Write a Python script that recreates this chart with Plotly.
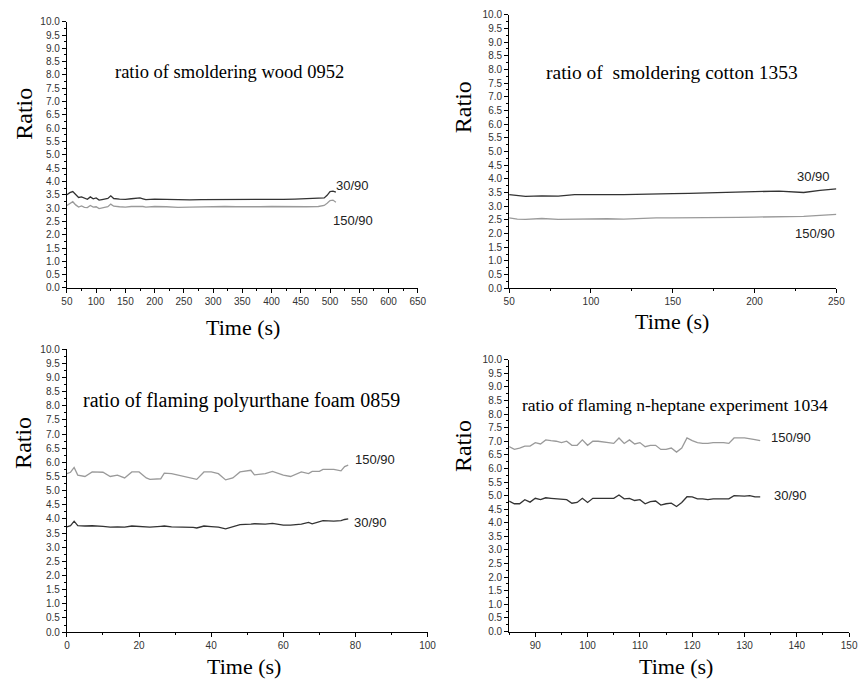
import plotly.graph_objects as go

# ---------------- data ----------------
# Panel 1: smoldering wood 0952
wood_t = [50, 55, 60, 65, 70, 75, 80, 85, 90, 95, 100, 105, 110, 115, 120, 125, 130, 140, 150,
          160, 170, 175, 180, 185, 200, 220, 240, 260, 280, 300, 320, 340, 360, 380, 400,
          420, 440, 460, 480, 490, 495, 500, 505, 510]
wood_30 = [3.50, 3.58, 3.62, 3.50, 3.40, 3.42, 3.36, 3.33, 3.42, 3.35, 3.38, 3.30, 3.32, 3.35, 3.36,
           3.46, 3.36, 3.34, 3.33, 3.35, 3.36, 3.38, 3.35, 3.32, 3.34, 3.33, 3.30, 3.31, 3.32, 3.32,
           3.31, 3.32, 3.31, 3.32, 3.33, 3.33, 3.34, 3.35, 3.36, 3.38, 3.48, 3.62, 3.64, 3.60]
wood_150 = [3.10, 3.18, 3.24, 3.12, 3.04, 3.08, 3.03, 3.02, 3.10, 3.04, 3.05, 2.98, 3.00, 3.04, 3.05,
            3.15, 3.07, 3.05, 3.04, 3.06, 3.07, 3.08, 3.06, 3.04, 3.06, 3.05, 3.03, 3.04, 3.05, 3.05,
            3.06, 3.05, 3.04, 3.05, 3.06, 3.05, 3.04, 3.05, 3.06, 3.10, 3.18, 3.28, 3.30, 3.22]

# Panel 2: smoldering cotton 1353
cotton_t = [50, 55, 60, 70, 80, 90, 100, 110, 120, 130, 140, 150, 160, 175, 190, 200, 215, 225, 230, 240, 250]
cotton_30 = [3.42, 3.38, 3.36, 3.38, 3.37, 3.42, 3.41, 3.42, 3.42, 3.44, 3.46, 3.46, 3.47, 3.50, 3.51,
             3.53, 3.55, 3.52, 3.50, 3.58, 3.63]
cotton_150 = [2.57, 2.53, 2.52, 2.55, 2.52, 2.53, 2.55, 2.54, 2.53, 2.56, 2.57, 2.57, 2.57, 2.57, 2.59,
              2.60, 2.61, 2.60, 2.63, 2.66, 2.70]

# Panel 3: flaming polyurethane foam 0859
foam_t = [0, 1, 2, 3, 5, 7, 10, 12, 14, 16, 18, 20, 22, 23, 26, 27, 29, 33, 35, 36, 38, 40, 42, 44,
          46, 48, 51, 52, 55, 57, 60, 62, 65, 67, 68, 70, 71, 74, 76, 77, 78]
foam_150 = [5.60, 5.65, 5.82, 5.55, 5.50, 5.66, 5.65, 5.50, 5.55, 5.45, 5.66, 5.66, 5.45, 5.40, 5.42,
            5.62, 5.60, 5.50, 5.45, 5.40, 5.66, 5.66, 5.60, 5.38, 5.45, 5.66, 5.72, 5.56, 5.60, 5.68,
            5.55, 5.50, 5.66, 5.60, 5.68, 5.68, 5.75, 5.75, 5.70, 5.85, 5.90]
foam_30 = [3.72, 3.76, 3.92, 3.76, 3.75, 3.76, 3.74, 3.71, 3.72, 3.71, 3.75, 3.74, 3.71, 3.71, 3.74,
           3.75, 3.72, 3.72, 3.70, 3.68, 3.75, 3.73, 3.71, 3.65, 3.72, 3.80, 3.82, 3.83, 3.82, 3.84,
           3.78, 3.78, 3.82, 3.88, 3.83, 3.90, 3.94, 3.92, 3.94, 3.98, 4.00]

# Panel 4: flaming n-heptane experiment 1034
hep_t = [85, 86, 87, 88, 89, 90, 91, 92, 93, 94, 95, 96, 97, 98, 99, 100, 101, 102, 104, 105, 106,
         107, 108, 109, 110, 111, 112, 113, 114, 115, 116, 117, 118, 119, 120, 121, 122, 123, 124,
         126, 127, 128, 130, 131, 132, 133]
hep_150 = [6.80, 6.70, 6.75, 6.82, 6.82, 6.95, 6.90, 7.05, 7.02, 7.00, 6.95, 7.00, 6.85, 6.85, 7.05,
           6.85, 7.00, 7.00, 6.95, 6.92, 7.12, 6.92, 7.05, 6.90, 6.95, 6.80, 6.85, 6.85, 6.70, 6.70,
           6.75, 6.60, 6.75, 7.12, 7.02, 6.95, 6.92, 6.92, 6.95, 6.95, 6.92, 7.12, 7.12, 7.10, 7.06, 7.02]
hep_30 = [4.80, 4.70, 4.70, 4.85, 4.76, 4.90, 4.85, 4.92, 4.90, 4.88, 4.85, 4.85, 4.72, 4.75, 4.90,
          4.75, 4.90, 4.90, 4.88, 4.90, 5.02, 4.88, 4.90, 4.82, 4.85, 4.70, 4.78, 4.80, 4.65, 4.70,
          4.72, 4.60, 4.75, 4.96, 4.95, 4.88, 4.88, 4.85, 4.88, 4.88, 4.88, 5.00, 4.98, 5.00, 4.95, 4.95]

panel_titles = ["ratio of smoldering wood 0952", "ratio of  smoldering cotton 1353",
                "ratio of flaming polyurthane foam 0859", "ratio of flaming n-heptane experiment 1034"]
series_names = ["30/90", "150/90"]
x_title = "Time (s)"
y_title = "Ratio"

# ---------------- styling / layout ----------------
W, H = 866, 684
DARK = "#333333"
LIGHT = "#9a9a9a"
SERIF = "Liberation Serif, Times New Roman, serif"
SANS = "Liberation Sans, Arial, sans-serif"

def fx(px):
    return px / W

def fy(py):
    return 1 - py / H

# pixel boxes: (left, right, top, bottom)
boxes = [(62, 419, 16, 287), (512, 845, 8.8, 287.3), (62, 429, 349.3, 637.3), (512, 858, 360, 636.7)]
xranges = [[50, 650], [50, 250], [0, 100], [85, 150]]
xticks = [(50, 50, 25), (50, 50, 25), (0, 20, 10), (90, 10, 5)]

panels = [
    (wood_t, wood_30, wood_150),
    (cotton_t, cotton_30, cotton_150),
    (foam_t, foam_30, foam_150),
    (hep_t, hep_30, hep_150),
]

fig = go.Figure()
for i, (t, s30, s150) in enumerate(panels):
    sfx = "" if i == 0 else str(i + 1)
    fig.add_trace(go.Scatter(x=t, y=s30, mode="lines", line=dict(color=DARK, width=1.3),
                             name=series_names[0], showlegend=False, xaxis="x" + sfx, yaxis="y" + sfx))
    fig.add_trace(go.Scatter(x=t, y=s150, mode="lines", line=dict(color=LIGHT, width=1.3),
                             name=series_names[1], showlegend=False, xaxis="x" + sfx, yaxis="y" + sfx))

layout = dict(width=W, height=H, margin=dict(l=0, r=0, t=0, b=0),
              paper_bgcolor="white", plot_bgcolor="white", showlegend=False)

for i in range(4):
    l, r, t, b = boxes[i]
    sfx = "" if i == 0 else str(i + 1)
    t0, dt, mdt = xticks[i]
    layout["xaxis" + sfx] = dict(
        domain=[fx(l), fx(r)], range=xranges[i], anchor="y" + sfx,
        showline=True, linecolor="black", linewidth=1.2, showgrid=False, zeroline=False,
        ticks="outside", ticklen=4, tickcolor="black", tick0=t0, dtick=dt,
        minor=dict(ticks="outside", ticklen=2, dtick=mdt, tick0=t0, tickcolor="black", showgrid=False),
        tickfont=dict(family=SANS, size=10, color="#333333"))
    layout["yaxis" + sfx] = dict(
        domain=[fy(b), fy(t)], range=[0, 10], anchor="x" + sfx,
        showline=True, linecolor="black", linewidth=1.2, showgrid=False, zeroline=False,
        ticks="outside", ticklen=4, tickcolor="black", tick0=0, dtick=0.5, tickformat=".1f",
        minor=dict(ticks="outside", ticklen=2, dtick=0.25, tickcolor="black", showgrid=False),
        tickfont=dict(family=SANS, size=10, color="#333333"))

fig.update_layout(**layout)

ann = []
# panel titles (center px, center py, size)
title_pos = [(227, 67, 18.5), (678, 68, 19.5), (240, 402, 20), (681, 406, 17.5)]
for i, (cx, cy, sz) in enumerate(title_pos):
    ann.append(dict(text=panel_titles[i], x=fx(cx), y=fy(cy), xref="paper", yref="paper",
                    showarrow=False, xanchor="center", yanchor="middle",
                    font=dict(family=SERIF, size=sz, color="black")))

# axis titles
ratio_pos = [(18, 110), (465, 103), (18, 445), (465, 448)]
time_pos = [(241, 327), (678, 321), (242, 672), (682, 672)]
for (rx, ry), (tx, ty) in zip(ratio_pos, time_pos):
    ann.append(dict(text=y_title, x=fx(rx), y=fy(ry), xref="paper", yref="paper", textangle=-90,
                    showarrow=False, xanchor="center", yanchor="middle",
                    font=dict(family=SERIF, size=24, color="black")))
    ann.append(dict(text=x_title, x=fx(tx), y=fy(ty), xref="paper", yref="paper",
                    showarrow=False, xanchor="center", yanchor="middle",
                    font=dict(family=SERIF, size=22, color="black")))

# series labels in data coordinates
label_pos = [((539, 3.84), (539, 2.55)), ((236, 4.1), (237, 1.99)),
             ((84.2, 3.87), (85.3, 6.09)), ((138.8, 5.01), (138.8, 7.14))]
for i, (p30, p150) in enumerate(label_pos):
    sfx = "" if i == 0 else str(i + 1)
    for name, (xv, yv) in zip(series_names, (p30, p150)):
        ann.append(dict(text=name, x=xv, y=yv, xref="x" + sfx, yref="y" + sfx, showarrow=False,
                        xanchor="center", yanchor="middle",
                        font=dict(family=SANS, size=13, color="#222222")))

fig.update_layout(annotations=ann)
fig.write_html("out.html")
